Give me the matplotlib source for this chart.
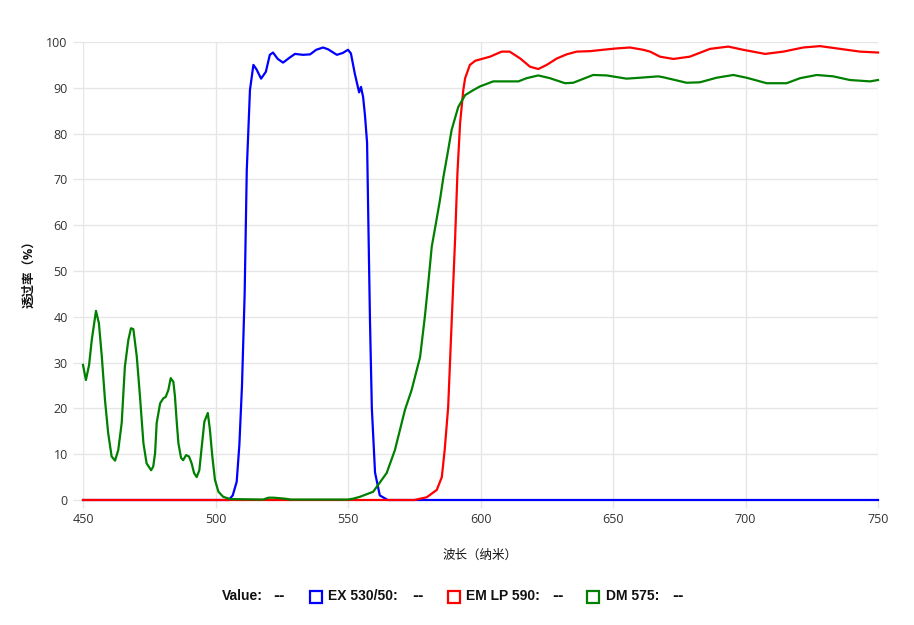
import matplotlib
matplotlib.use('Agg')
import matplotlib.pyplot as plt
from matplotlib.patches import Rectangle

plt.rcParams['font.family'] = ['Open Sans', 'Noto Sans CJK SC', 'DejaVu Sans']

# EX 530/50 (blue)
ex_wl = [450, 505, 506.5, 508, 509, 510, 511, 511.8, 513, 514.3,
         515.5, 517.2, 519, 520.5, 521.7, 523.5, 525.5, 528, 530, 533,
         535.7, 538, 540.6, 542.5, 545.8, 548, 550, 551.1, 552.6, 554.2,
         554.9, 555.7, 556.4, 557.2, 557.7, 558.3, 559, 560.2, 562, 565,
         750]
ex_t = [0, 0, 1, 4, 12, 25, 45, 72, 89.5, 95,
        94, 92, 93.5, 97.2, 97.7, 96.3, 95.5, 96.6, 97.4, 97.2,
        97.3, 98.3, 98.8, 98.4, 97.2, 97.6, 98.3, 97.5, 93, 89,
        90.2, 88, 84, 78, 60, 39, 20, 6, 1, 0,
        0]

# EM LP 590 (red)
em_wl = [450, 575, 579.7, 583.5, 585.4, 586.5, 587.8, 589.1, 590.4, 591.3,
         592.3, 593.5, 594.2, 596, 598, 603.6, 608, 611, 615, 618.7,
         621.8, 625, 628.8, 632.5, 636.3, 641.3, 646.2, 651.4, 656.4, 661.4,
         664, 667.7, 672.8, 679, 686.6, 693.5, 699.1, 707.4, 714.3, 721.8,
         728.1, 735.7, 743.2, 750]
em_t = [0, 0, 0.6, 2.2, 5, 11, 20.3, 38.6, 56.8, 71.4,
        82.3, 89.5, 92.1, 95, 95.9, 96.8, 97.9, 97.9, 96.4, 94.6,
        94.1, 95, 96.4, 97.3, 97.9, 98, 98.3, 98.6, 98.8, 98.3,
        97.9, 96.8, 96.3, 96.8, 98.5, 99, 98.3, 97.4, 97.9, 98.8,
        99.1, 98.5, 97.9, 97.7]

# DM 575 (green)
dm_wl = [450, 451.1, 452.3, 453.3, 454.9, 456, 457.1, 458.3, 459.5, 460.8,
         462.1, 463.3, 464.6, 465.8, 467.1, 468.1, 469, 470.3, 471.5, 472.8,
         474, 475.7, 476.5, 477.2, 477.8, 479.1, 480.3, 481.2, 482.2, 483.1,
         484.1, 484.7, 485.4, 486, 487, 487.8, 488.9, 490, 491, 491.9,
         492.9, 493.9, 494.8, 495.8, 497.1, 497.9, 498.8, 499.8, 501.1, 502.9,
         505.5, 518, 520, 522, 526, 528.5, 550, 552, 554.5, 559.5,
         564.6, 567.7, 569.6, 571.5, 574, 577.2, 579, 580.3, 581.6, 583.2,
         584.7, 586, 587.8, 589.1, 591.6, 594.2, 597.3, 599.8, 604.8, 614.3,
         617.4, 621.8, 626.2, 631.9, 635, 642.5, 647.6, 655.1, 660.2, 667.1,
         669, 677.8, 682.8, 689.1, 695.4, 700.4, 708, 715.5, 720.6, 726.9,
         733.1, 739.4, 747, 750]
dm_t = [29.5, 26.2, 29.5, 34.9, 41.3, 38.6, 31.3, 21.8, 14.6, 9.5,
        8.6, 10.9, 16.8, 29.1, 34.9, 37.5, 37.3, 31.3, 22.6, 12.4,
        8, 6.5, 7.3, 10.2, 16.8, 21.1, 22.2, 22.5, 24, 26.6,
        25.8, 22.6, 16.8, 12.4, 9.2, 8.7, 9.8, 9.5, 8, 5.9,
        5, 6.5, 11.6, 17.1, 19, 15.3, 9.5, 4.4, 1.8, 0.7,
        0.2, 0.1, 0.5, 0.5, 0.3, 0.1, 0.1, 0.3, 0.7, 1.8,
        5.9, 10.9, 15.3, 19.7, 24, 31.2, 40, 47.4, 55.3, 60.5,
        65.5, 70.5, 76.4, 80.8, 85.8, 88.4, 89.5, 90.3, 91.4, 91.4,
        92.1, 92.7, 92.1, 91, 91.1, 92.8, 92.7, 92, 92.2, 92.5,
        92.3, 91.1, 91.2, 92.2, 92.8, 92.2, 91, 91, 92.1, 92.8,
        92.5, 91.7, 91.4, 91.7]

x_ticks = [450, 500, 550, 600, 650, 700, 750]
y_ticks = [0, 10, 20, 30, 40, 50, 60, 70, 80, 90, 100]

fig = plt.figure(figsize=(9.14, 6.25), dpi=100)
ax = fig.add_axes([83 / 914, 1 - 500 / 625, 795 / 914, 458 / 625])

ax.plot(ex_wl, ex_t, color='#0000ff', lw=1.6, clip_on=False, zorder=3)
ax.plot(em_wl, em_t, color='#ff0000', lw=1.6, clip_on=False, zorder=4)
ax.plot(dm_wl, dm_t, color='#008000', lw=1.6, clip_on=False, zorder=5)

ax.set_xlim(450, 750)
ax.set_ylim(0, 100)
ax.set_xticks(x_ticks)
ax.set_yticks(y_ticks)
ax.grid(True, color='#e6e6e6', lw=1)
ax.set_axisbelow(True)
for s in ax.spines.values():
    s.set_visible(False)
ax.tick_params(axis='both', colors='#e6e6e6', labelcolor='#333333',
               labelsize=9, width=1)
ax.tick_params(axis='y', length=7.5, pad=3.5)
ax.tick_params(axis='x', length=6, pad=3.5)

ax.set_xlabel('波长（纳米）', fontsize=9, color='#111111', labelpad=16)
ax.set_ylabel('透过率（%）', fontsize=9, color='#111111', fontweight='bold',
              labelpad=8)

# legend row
ly = 1 - 596 / 625
def ftext(px, s, fam='Liberation Sans'):
    fig.text(px / 914, ly, s, fontsize=10, fontweight='bold',
             family=[fam, 'DejaVu Sans'],
             color='#111111', va='center', ha='left')

def square(px, color):
    fig.add_artist(Rectangle((px / 914, (625 - 602.5) / 625), 12 / 914, 12 / 625,
                             transform=fig.transFigure, fill=False,
                             edgecolor=color, lw=1.6))

ftext(222, 'Value:')
ftext(273, '--', 'DejaVu Sans')
square(310, '#0000ff')
ftext(328, 'EX 530/50:')
ftext(412, '--', 'DejaVu Sans')
square(448, '#ff0000')
ftext(466, 'EM LP 590:')
ftext(552, '--', 'DejaVu Sans')
square(587, '#008000')
ftext(606, 'DM 575:')
ftext(672, '--', 'DejaVu Sans')

fig.savefig('out.png', dpi=100)
